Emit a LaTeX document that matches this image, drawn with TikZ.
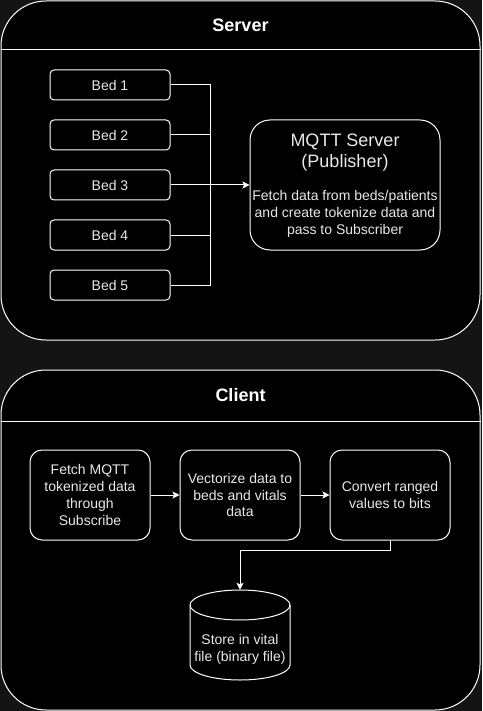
\documentclass[tikz,border=0pt]{standalone}
\usepackage{fontspec}
\setmainfont{Liberation Sans}
\usetikzlibrary{arrows.meta}
\definecolor{bg}{HTML}{141414}
\definecolor{txt}{HTML}{E8E8E8}
\begin{document}
\begin{tikzpicture}[x=1pt,y=-1pt,
  every node/.style={font=\fontsize{14}{16.8}\selectfont, text=txt, inner sep=0pt, align=center},
  container/.style={draw=white, line width=1pt, fill=black, rounded corners=45pt},
  headline/.style={draw=white, line width=1pt},
  title/.style={font=\bfseries\fontsize{18}{21.6}\selectfont, text=white},
  bedbox/.style={draw=white, line width=1pt, fill=black, rounded corners=4pt, minimum width=120pt, minimum height=30pt},
  procbox/.style={draw=white, line width=1pt, fill=black, rounded corners=12pt, minimum width=120pt, minimum height=90pt},
  wire/.style={draw=white, line width=1pt},
  arrow/.style={wire, -{Stealth[length=7pt,width=7pt,inset=1.5pt]}}
]
\useasboundingbox (0,0) rectangle (482,711);
\fill[bg] (0,0) rectangle (482,711);

% Server container
\node[container, minimum width=479pt, minimum height=339pt] (server) at (240.5,170.5) {};
\draw[headline] (server.west |- 0,50) -- (server.east |- 0,50);
\node[title] (servertitle) at (240.5,25) {Server};

% Beds
\node[bedbox] (bed1) at (110,85) {Bed 1};
\node[bedbox] (bed2) at (110,135) {Bed 2};
\node[bedbox] (bed3) at (110,185) {Bed 3};
\node[bedbox] (bed4) at (110,235) {Bed 4};
\node[bedbox] (bed5) at (110,285) {Bed 5};

% MQTT server
\node[draw=white, line width=1pt, fill=black, rounded corners=20pt, minimum width=190pt, minimum height=130pt] (mqtt) at (345,185) {};
\node[font=\fontsize{18}{21.6}\selectfont] (mqtttitle) at (345,152.5) {MQTT Server\\(Publisher)};
\node (mqttbody) at (345,214) {Fetch data from beds/patients\\and create tokenize data and\\pass to Subscriber};

\coordinate (jn) at (210,185);
\draw[wire] (bed1.east) -| (jn);
\draw[wire] (bed2.east) -| (jn);
\draw[wire] (bed4.east) -| (jn);
\draw[wire] (bed5.east) -| (jn);
\draw[arrow] (bed3.east) -- (mqtt.west);

% Client container
\node[container, minimum width=479pt, minimum height=340pt] (client) at (240.5,540) {};
\draw[headline] (client.west |- 0,421) -- (client.east |- 0,421);
\node[title] (clienttitle) at (240.5,395) {Client};

\node[procbox] (fetch) at (90,495) {Fetch MQTT\\tokenized data\\through\\Subscribe};
\node[procbox] (vector) at (240,495) {Vectorize data to\\beds and vitals\\data};
\node[procbox] (convert) at (390,495) {Convert ranged\\values to bits};

\draw[arrow] (fetch) -- (vector);
\draw[arrow] (vector) -- (convert);

% Storage cylinder
\node[minimum width=100pt, minimum height=90pt] (store) at (240,635) {};
\draw[wire, fill=black] (190,605) -- (190,665) arc[start angle=180, end angle=0, x radius=50, y radius=15]
  -- (290,605) arc[start angle=0, end angle=-180, x radius=50, y radius=15] -- cycle;
\draw[wire] (190,605) arc[start angle=180, end angle=0, x radius=50, y radius=15];
\node (storetext) at (240,649) {Store in vital\\file (binary file)};

\draw[arrow] (convert.south) |- (240,550) -- (store.north);
\end{tikzpicture}
\end{document}
